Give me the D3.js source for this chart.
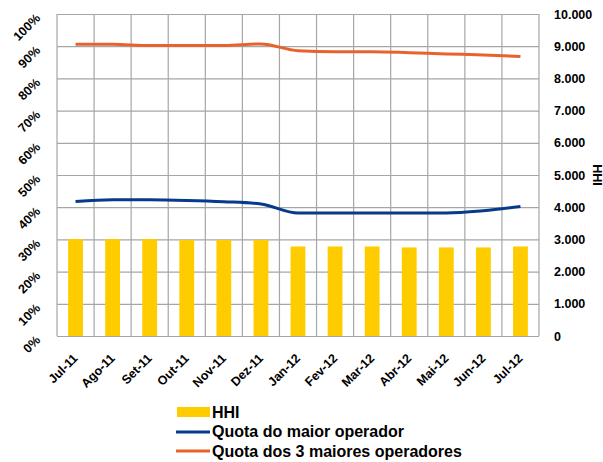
<!DOCTYPE html>
<html><head><meta charset="utf-8">
<script src="https://cdn.jsdelivr.net/npm/d3@7"></script>
<style>
body{margin:0;background:#fff;}
text{font-family:"Liberation Sans",Arial,sans-serif;font-weight:bold;fill:#000;}
</style></head>
<body><svg id="c" width="603" height="462"></svg>
<script>
const categories = ["Jul-11","Ago-11","Set-11","Out-11","Nov-11","Dez-11","Jan-12","Fev-12","Mar-12","Abr-12","Mai-12","Jun-12","Jul-12"];
const hhi = [3010,3010,3010,2980,2980,2980,2780,2780,2780,2750,2750,2750,2780];
const quotaMaior = [41.8,42.3,42.3,42.1,41.7,41.0,38.2,38.2,38.2,38.2,38.2,38.9,40.2];
const quota3 = [90.6,90.6,90.2,90.2,90.2,90.7,88.6,88.3,88.3,88.0,87.6,87.3,86.8];
const leftTicks = [0,10,20,30,40,50,60,70,80,90,100];
const rightTicks = [0,1000,2000,3000,4000,5000,6000,7000,8000,9000,10000];
const legendLabels = ["HHI","Quota do maior operador","Quota dos 3 maiores operadores"];

const svg = d3.select("#c");
const L=57, R=539, T=14, B=336;
const x = d3.scaleBand().domain(categories).range([L,R]).paddingInner(0.6).paddingOuter(0.3);
const yL = d3.scaleLinear().domain([0,100]).range([B,T]);
const yR = d3.scaleLinear().domain([0,10000]).range([B,T]);
const step = x.step();
const grid = "#a6a6a6";

svg.append("g").selectAll("line").data(leftTicks).join("line")
  .attr("x1",L).attr("x2",R).attr("y1",d=>yL(d)+0.5).attr("y2",d=>yL(d)+0.5)
  .attr("stroke",grid).attr("stroke-width",1.2);
svg.append("g").selectAll("line").data(d3.range(categories.length+1)).join("line")
  .attr("x1",i=>L+i*step).attr("x2",i=>L+i*step).attr("y1",T).attr("y2",B)
  .attr("stroke",grid).attr("stroke-width",1.2);

svg.append("g").selectAll("rect").data(hhi).join("rect")
  .attr("x",(d,i)=>x(categories[i])).attr("width",x.bandwidth())
  .attr("y",d=>yR(d)).attr("height",d=>B-yR(d)).attr("fill","#FFCC00");

const cx = i => x(categories[i]) + x.bandwidth()/2;
const line = s => d3.line().x((d,i)=>cx(i)).y(d=>yL(d)).curve(d3.curveMonotoneX)(s);
svg.append("path").attr("d",line(quotaMaior)).attr("fill","none").attr("stroke","#063A8C").attr("stroke-width",3);
svg.append("path").attr("d",line(quota3)).attr("fill","none").attr("stroke","#E8622C").attr("stroke-width",3);

svg.append("g").selectAll("text").data(leftTicks).join("text")
  .attr("transform",d=>`translate(41,${yL(d)+5}) rotate(-45)`)
  .attr("text-anchor","end").style("font-size","12.5px").text(d=>d+"%");
svg.append("g").selectAll("text").data(rightTicks).join("text")
  .attr("x",554).attr("y",d=>yR(d)+4.5).style("font-size","12.5px")
  .text(d=>d3.format(",")(d).replace(/,/g,"."));
svg.append("text").attr("transform",`translate(593,${yR(5000)}) rotate(90)`)
  .attr("text-anchor","middle").style("font-size","12.5px").text("HHI");
svg.append("g").selectAll("text").data(categories).join("text")
  .attr("transform",(d,i)=>`translate(${cx(i)+3},359) rotate(-45)`)
  .attr("text-anchor","end").style("font-size","12.5px").text(d=>d);

const lg = svg.append("g");
lg.append("rect").attr("x",177).attr("y",407).attr("width",33).attr("height",10).attr("fill","#FFCC00");
lg.append("line").attr("x1",176).attr("x2",210).attr("y1",432).attr("y2",432).attr("stroke","#063A8C").attr("stroke-width",3);
lg.append("line").attr("x1",176).attr("x2",210).attr("y1",451).attr("y2",451).attr("stroke","#E8622C").attr("stroke-width",3);
lg.selectAll("text.l").data(legendLabels).join("text").attr("class","l")
  .attr("x",212).attr("y",(d,i)=>418+i*19.3).style("font-size","16px").text(d=>d);
</script></body></html>
